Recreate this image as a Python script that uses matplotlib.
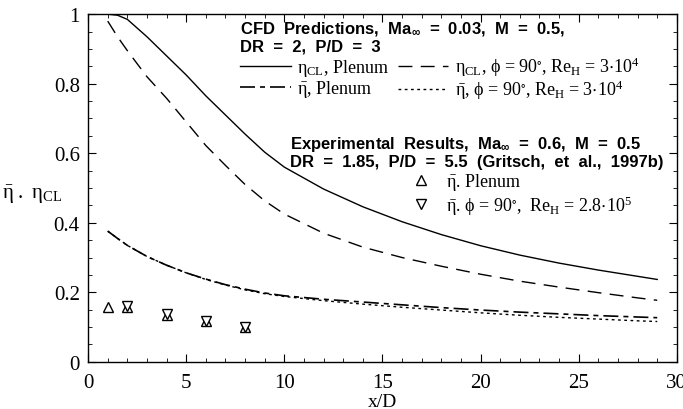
import matplotlib
matplotlib.use("Agg")
import matplotlib.pyplot as plt
from matplotlib.ticker import MultipleLocator

plt.rcParams['font.family'] = ['Liberation Serif', 'DejaVu Serif']
plt.rcParams['mathtext.fontset'] = 'stix'
plt.rcParams['mathtext.default'] = 'regular'

# CFD predictions
x_cfd = [1, 1.5, 2, 3, 4, 5, 6, 7, 8, 9, 10, 12, 14, 16, 18, 20, 22, 24, 26, 28, 29]
cl_plenum = [1.0, 0.997, 0.985, 0.935, 0.88, 0.825, 0.765, 0.71, 0.655, 0.603, 0.56,
             0.497, 0.446, 0.403, 0.366, 0.334, 0.307, 0.284, 0.264, 0.246, 0.237]
cl_90 = [0.98, 0.935, 0.895, 0.82, 0.758, 0.69, 0.622, 0.565, 0.51, 0.463, 0.425,
         0.37, 0.33, 0.3, 0.275, 0.252, 0.232, 0.215, 0.199, 0.184, 0.177]
avg_plenum = [0.376, 0.355, 0.335, 0.303, 0.278, 0.256, 0.238, 0.222, 0.209, 0.198, 0.19,
              0.18, 0.172, 0.164, 0.156, 0.149, 0.143, 0.138, 0.133, 0.129, 0.127]
avg_90 = [0.376, 0.355, 0.335, 0.303, 0.278, 0.256, 0.237, 0.221, 0.207, 0.196, 0.188,
          0.176, 0.166, 0.157, 0.149, 0.141, 0.134, 0.128, 0.123, 0.118, 0.116]

# Experimental (Gritsch et al., 1997b)
x_exp_plenum = [1, 2, 4, 6, 8]
exp_plenum = [0.158, 0.158, 0.135, 0.117, 0.1]
x_exp_90 = [2, 4, 6, 8]
exp_90 = [0.16, 0.137, 0.118, 0.1]

fig = plt.figure(figsize=(6.83, 4.10), dpi=100)
ax = fig.add_axes([0.129, 0.115, 0.862, 0.848])

l1, = ax.plot(x_cfd, cl_plenum, color='black', lw=1.0, ls='-')
l2, = ax.plot(x_cfd, cl_90, color='black', lw=1.0, ls=(0, (10, 6)))
l3, = ax.plot(x_cfd, avg_plenum, color='black', lw=1.2, ls=(0, (9, 3, 3, 3)))
l4, = ax.plot(x_cfd, avg_90, color='black', lw=1.0, ls=(0, (2, 2.5)))
m1, = ax.plot(x_exp_plenum, exp_plenum, ls='none', marker='^', ms=6.5, mfc='white', mec='black', mew=1.0)
m2, = ax.plot(x_exp_90, exp_90, ls='none', marker='v', ms=6.5, mfc='white', mec='black', mew=1.0)

ax.set_xlim(0, 30)
ax.set_ylim(0, 1)
ax.xaxis.set_major_locator(MultipleLocator(5))
ax.xaxis.set_minor_locator(MultipleLocator(1))
ax.yaxis.set_minor_locator(MultipleLocator(0.05))
ax.set_yticks([0, 0.2, 0.4, 0.6, 0.8, 1.0])
ax.set_yticklabels(['0', '0.2', '0.4', '0.6', '0.8', '1'])
ax.tick_params(which='both', direction='in', top=True, right=True, labelsize=15)
ax.tick_params(axis='x', pad=8)
ax.tick_params(axis='y', pad=6)
ax.tick_params(which='major', length=6)
ax.tick_params(which='minor', length=3)
for s in ax.spines.values():
    s.set_linewidth(1.0)

ax.set_xlabel('x/D', fontsize=14, labelpad=1)
ax.set_ylabel(r'$\bar{\eta}\ .\ \eta_{CL}$', fontsize=15, rotation=0)
ax.yaxis.set_label_coords(-0.095, 0.45)

title_font = {'family': 'Liberation Sans', 'weight': 'bold', 'size': 12}
label_font = {'family': 'Liberation Serif', 'size': 13}

ax.text(0.258, 0.985,
        'CFD  Predictions,  Ma$_{\\infty}$  =  0.03,  M  =  0.5,\nDR  =  2,  P/D  =  3',
        transform=ax.transAxes, ha='left', va='top', linespacing=1.1, **title_font)

leg1 = ax.legend(
    [l1, l3, l2, l4],
    [r'$\eta_{CL}$, Plenum', r'$\bar{\eta}$, Plenum',
     r'$\eta_{CL}$, $\phi$ = 90$^{\circ}$, Re$_H$ = 3$\cdot$10$^4$',
     r'$\bar{\eta}$, $\phi$ = 90$^{\circ}$, Re$_H$ = 3$\cdot$10$^4$'],
    ncol=2, loc='upper left', bbox_to_anchor=(0.258, 0.884), frameon=False,
    prop=label_font, handlelength=2.8, handletextpad=0.35, columnspacing=0.5,
    labelspacing=0.0, borderpad=0, borderaxespad=0)
ax.add_artist(leg1)

ax.text(0.343, 0.655,
        'Experimental  Results,  Ma$_{\\infty}$  =  0.6,  M  =  0.5\nDR  =  1.85,  P/D  =  5.5  (Gritsch,  et  al.,  1997b)',
        transform=ax.transAxes, ha='left', va='top', linespacing=1.1, **title_font)

ax.legend(
    [m1, m2],
    [r'$\bar{\eta}$. Plenum', r'$\bar{\eta}$. $\phi$ = 90$^{\circ}$,  Re$_H$ = 2.8$\cdot$10$^5$'],
    loc='upper left', bbox_to_anchor=(0.55, 0.548), frameon=False,
    prop=label_font, handlelength=1.0, handletextpad=0.9, labelspacing=0.05,
    borderpad=0, borderaxespad=0)

fig.savefig('out.png', dpi=100)
